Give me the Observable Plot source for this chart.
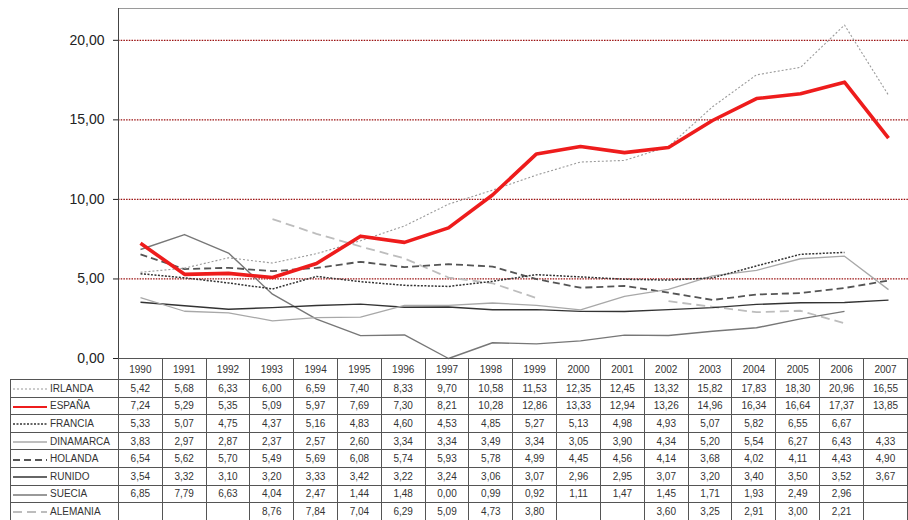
<!DOCTYPE html>
<html>
<head>
<meta charset="utf-8">
<script src="https://cdn.jsdelivr.net/npm/d3@7"></script>
<script src="https://cdn.jsdelivr.net/npm/@observablehq/plot@0.6"></script>
<style>
  body { margin: 0; background: #fff; font-family: "Liberation Sans", Arial, sans-serif; }
  #wrap { position: relative; width: 908px; height: 520px; overflow: hidden; }
  #chart { position: absolute; left: 0; top: 0; }
  #tbl { position: absolute; left: 10px; top: 358px; border-collapse: collapse; table-layout: fixed;
         font-size: 10px; color: #333; }
  #tbl td { border: 1px solid #555; text-align: center; padding: 0; white-space: nowrap; overflow: hidden; }
  #tbl tr.head td { height: 20px; }
  #tbl tr.row td { height: 16.6px; }
  #tbl td.lab { text-align: left; padding-left: 2px; }
  #tbl td.blank { border: none; }
  #tbl svg { vertical-align: middle; margin-right: 3px; }
</style>
</head>
<body>
<div id="wrap">
  <div id="chart"></div>
  <table id="tbl"></table>
</div>
<script>
const years = [1990,1991,1992,1993,1994,1995,1996,1997,1998,1999,2000,2001,2002,2003,2004,2005,2006,2007];
const countries = ["IRLANDA","ESPAÑA","FRANCIA","DINAMARCA","HOLANDA","RUNIDO","SUECIA","ALEMANIA"];
const irlanda   = [5.42,5.68,6.33,6.00,6.59,7.40,8.33,9.70,10.58,11.53,12.35,12.45,13.32,15.82,17.83,18.30,20.96,16.55];
const espana    = [7.24,5.29,5.35,5.09,5.97,7.69,7.30,8.21,10.28,12.86,13.33,12.94,13.26,14.96,16.34,16.64,17.37,13.85];
const francia   = [5.33,5.07,4.75,4.37,5.16,4.83,4.60,4.53,4.85,5.27,5.13,4.98,4.93,5.07,5.82,6.55,6.67,null];
const dinamarca = [3.83,2.97,2.87,2.37,2.57,2.60,3.34,3.34,3.49,3.34,3.05,3.90,4.34,5.20,5.54,6.27,6.43,4.33];
const holanda   = [6.54,5.62,5.70,5.49,5.69,6.08,5.74,5.93,5.78,4.99,4.45,4.56,4.14,3.68,4.02,4.11,4.43,4.90];
const runido    = [3.54,3.32,3.10,3.20,3.33,3.42,3.22,3.24,3.06,3.07,2.96,2.95,3.07,3.20,3.40,3.50,3.52,3.67];
const suecia    = [6.85,7.79,6.63,4.04,2.47,1.44,1.48,0.00,0.99,0.92,1.11,1.47,1.45,1.71,1.93,2.49,2.96,null];
const alemania  = [null,null,null,8.76,7.84,7.04,6.29,5.09,4.73,3.80,null,null,3.60,3.25,2.91,3.00,2.21,null];
const yTicks = [0,5,10,15,20];
const gridValues = [5,10,15,20];

const seriesValues = [irlanda, espana, francia, dinamarca, holanda, runido, suecia, alemania];
const styles = {
  "IRLANDA":   {stroke: "#9a9a9a", strokeWidth: 1.1, strokeDasharray: "2,2"},
  "ESPAÑA":    {stroke: "#ee1c1c", strokeWidth: 3.6, strokeDasharray: null},
  "FRANCIA":   {stroke: "#333333", strokeWidth: 1.5, strokeDasharray: "2,1.5"},
  "DINAMARCA": {stroke: "#a8a8a8", strokeWidth: 1.3, strokeDasharray: null},
  "HOLANDA":   {stroke: "#555555", strokeWidth: 1.8, strokeDasharray: "7,4"},
  "RUNIDO":    {stroke: "#333333", strokeWidth: 1.4, strokeDasharray: null},
  "SUECIA":    {stroke: "#777777", strokeWidth: 1.4, strokeDasharray: null},
  "ALEMANIA":  {stroke: "#bdbdbd", strokeWidth: 1.8, strokeDasharray: "9,5"}
};

const fmt = v => (v == null ? "" : d3.format(".2f")(v).replace(".", ","));
const step = 792 / years.length;

const data = countries.map((c, i) => ({
  name: c,
  points: years.map((y, j) => ({year: y, value: seriesValues[i][j]}))
}));

const drawOrder = ["ALEMANIA","SUECIA","RUNIDO","HOLANDA","DINAMARCA","FRANCIA","IRLANDA","ESPAÑA"];

const chart = Plot.plot({
  width: 908,
  height: 372,
  marginLeft: 118,
  marginRight: -2,
  marginTop: 8,
  marginBottom: 14,
  x: {type: "point", domain: years, padding: 0.5, axis: null},
  y: {domain: [0, 22], ticks: yTicks, tickFormat: fmt, tickSize: 5, tickPadding: 9, label: null},
  style: {fontSize: "14px", fontFamily: "'Liberation Sans', Arial, sans-serif", color: "#222", background: "transparent"},
  marks: [
    Plot.ruleY(gridValues, {stroke: "#9b1111", strokeDasharray: "1.5,1.2", strokeWidth: 1.2}),
    Plot.ruleY([22], {stroke: "#9a9a9a", strokeWidth: 1}),
    ...drawOrder.map(name => {
      const d = data.find(s => s.name === name);
      const s = styles[name];
      return Plot.line(d.points, {
        x: "year", y: "value",
        stroke: s.stroke, strokeWidth: s.strokeWidth,
        strokeDasharray: s.strokeDasharray || undefined,
        strokeLinejoin: "round", strokeLinecap: "butt", curve: "linear"
      });
    }),
    Plot.ruleX([years[0]], {dx: -step / 2, stroke: "#444", strokeWidth: 1})
  ]
});
document.getElementById("chart").appendChild(chart);

const tbl = d3.select("#tbl");
const cg = tbl.append("colgroup");
cg.append("col").style("width", "108px");
years.forEach(() => cg.append("col").style("width", step + "px"));

const head = tbl.append("tr").attr("class", "head");
head.append("td").attr("class", "blank");
years.forEach(y => head.append("td").text(y));

countries.forEach((c, i) => {
  const tr = tbl.append("tr").attr("class", "row");
  const lab = tr.append("td").attr("class", "lab");
  const s = styles[c];
  const sw = lab.append("svg").attr("width", 34).attr("height", 6);
  sw.append("line").attr("x1", 0).attr("x2", 34).attr("y1", 3).attr("y2", 3)
    .attr("stroke", s.stroke)
    .attr("stroke-width", Math.min(s.strokeWidth, 2))
    .attr("stroke-dasharray", s.strokeDasharray);
  lab.append("span").text(c);
  seriesValues[i].forEach(v => tr.append("td").text(fmt(v)));
});
</script>
</body>
</html>
